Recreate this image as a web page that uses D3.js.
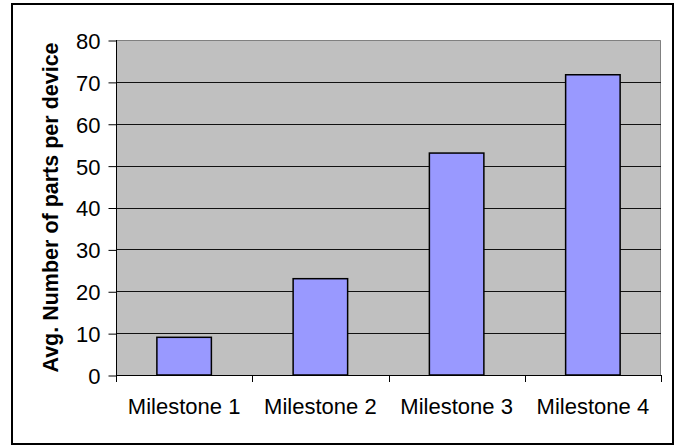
<!DOCTYPE html>
<html>
<head>
<meta charset="utf-8">
<script src="https://cdn.jsdelivr.net/npm/d3@7"></script>
<style>
  body { margin: 0; background: #fff; }
  text { font-family: Arial, "Liberation Sans", sans-serif; }
</style>
</head>
<body>
<div id="chart"></div>
<script>
// Chart data
const categories = ["Milestone 1", "Milestone 2", "Milestone 3", "Milestone 4"];
const avgParts = [9, 23, 53, 71.7];
const yTicks = [0, 10, 20, 30, 40, 50, 60, 70, 80];
const yTitle = "Avg. Number of parts per device";

const width = 681;
const height = 446;

const plot = { left: 116, top: 40, right: 661, bottom: 375 };

const svg = d3.select("#chart")
  .append("svg")
  .attr("width", width)
  .attr("height", height);

// outer frame
svg.append("rect")
  .attr("x", 12)
  .attr("y", 4)
  .attr("width", 661)
  .attr("height", 440)
  .style("fill", "#fff")
  .style("stroke", "#000")
  .style("stroke-width", 2);

const xScale = d3.scaleBand()
  .domain(categories)
  .range([plot.left, plot.right])
  .paddingInner(0)
  .paddingOuter(0);

const yScale = d3.scaleLinear()
  .domain([0, 80])
  .range([plot.bottom, plot.top]);

// plot area background
svg.append("rect")
  .attr("x", plot.left)
  .attr("y", plot.top)
  .attr("width", plot.right - plot.left)
  .attr("height", plot.bottom - plot.top)
  .style("fill", "#c0c0c0")
  .style("stroke", "none");

// plot area border (top, right)
svg.append("path")
  .attr("d", `M${plot.left},${plot.top + 0.5}H${plot.right - 0.5}V${plot.bottom}`)
  .style("fill", "none")
  .style("stroke", "#808080")
  .style("stroke-width", 1);

// gridlines
svg.append("g")
  .selectAll("line")
  .data(yTicks.filter(t => t > 0 && t < 80))
  .enter()
  .append("line")
  .attr("x1", plot.left)
  .attr("x2", plot.right)
  .attr("y1", d => Math.round(yScale(d)) + 0.5)
  .attr("y2", d => Math.round(yScale(d)) + 0.5)
  .style("stroke", "#111")
  .style("stroke-width", 1);

// bars
const barWidth = xScale.bandwidth() / 2.5;

svg.append("g")
  .selectAll("rect")
  .data(avgParts)
  .enter()
  .append("rect")
  .attr("x", (d, i) => xScale(categories[i]) + (xScale.bandwidth() - barWidth) / 2)
  .attr("y", d => yScale(d))
  .attr("width", barWidth)
  .attr("height", d => yScale(0) - yScale(d))
  .style("fill", "#9999ff")
  .style("stroke", "#000")
  .style("stroke-width", 1.5);

// y axis
const yAxis = d3.axisLeft(yScale)
  .tickValues(yTicks)
  .tickSize(8)
  .tickPadding(8);

const yAxisGroup = svg.append("g")
  .attr("transform", `translate(${plot.left + 0.5}, 0.5)`)
  .call(yAxis);

yAxisGroup.select(".domain").remove();
yAxisGroup.selectAll("line").style("stroke", "#000");
yAxisGroup.selectAll("text")
  .style("font-size", "22px")
  .style("fill", "#000")
  .attr("dy", "0.36em");

svg.append("line")
  .attr("x1", plot.left + 0.5)
  .attr("x2", plot.left + 0.5)
  .attr("y1", plot.top)
  .attr("y2", plot.bottom + 7)
  .style("stroke", "#000");

// x axis
svg.append("line")
  .attr("x1", plot.left)
  .attr("x2", plot.right)
  .attr("y1", plot.bottom + 0.5)
  .attr("y2", plot.bottom + 0.5)
  .style("stroke", "#000");

const xTickPos = categories.map(c => xScale(c)).concat([plot.right]);

svg.append("g")
  .selectAll("line")
  .data(xTickPos)
  .enter()
  .append("line")
  .attr("x1", d => Math.round(d) + 0.5)
  .attr("x2", d => Math.round(d) + 0.5)
  .attr("y1", plot.bottom)
  .attr("y2", plot.bottom + 7)
  .style("stroke", "#000");

svg.append("g")
  .selectAll("text")
  .data(categories)
  .enter()
  .append("text")
  .attr("x", d => xScale(d) + xScale.bandwidth() / 2)
  .attr("y", 414)
  .attr("text-anchor", "middle")
  .style("font-size", "22px")
  .style("fill", "#000")
  .text(d => d);

// y axis title
svg.append("text")
  .attr("transform", `translate(58, ${(plot.top + plot.bottom) / 2}) rotate(-90)`)
  .attr("text-anchor", "middle")
  .style("font-size", "21.5px")
  .style("font-weight", "bold")
  .style("fill", "#000")
  .text(yTitle);
</script>
</body>
</html>
